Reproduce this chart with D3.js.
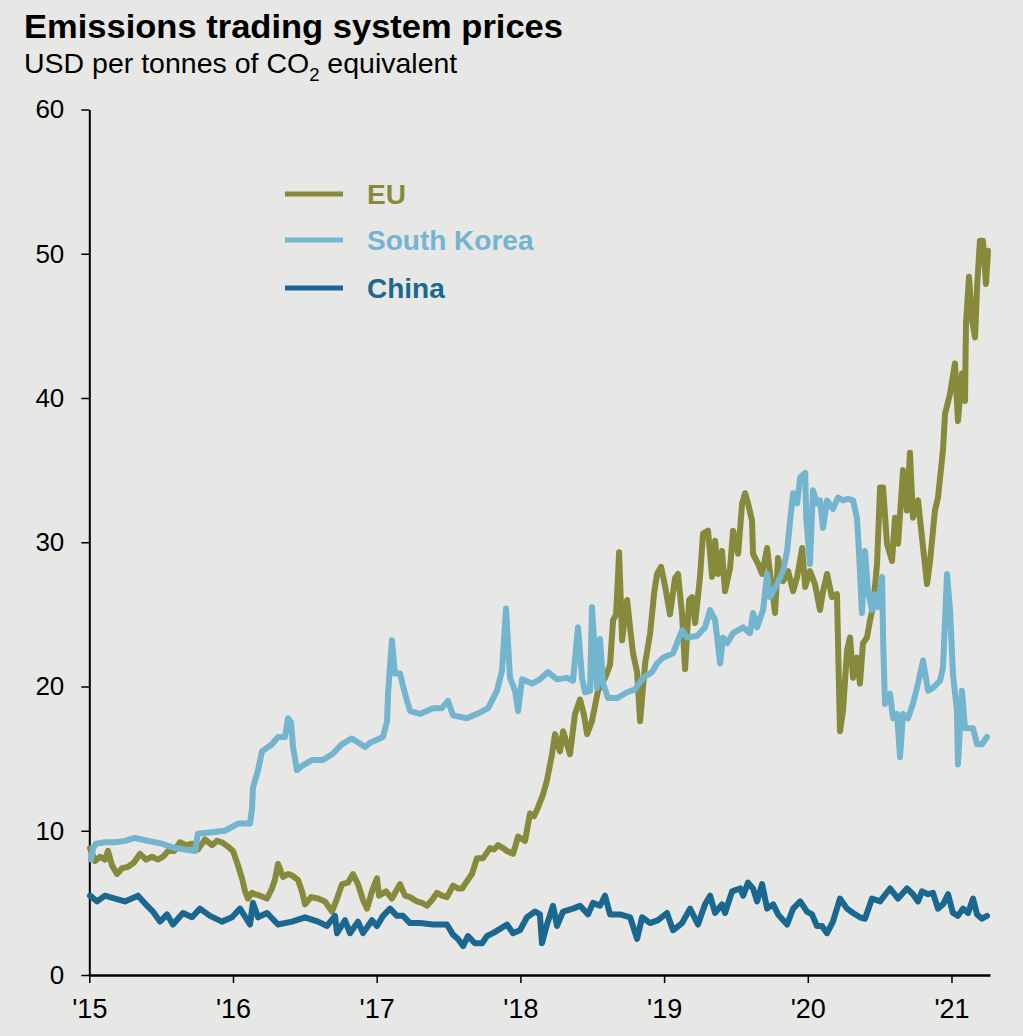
<!DOCTYPE html>
<html>
<head>
<meta charset="utf-8">
<script src="https://cdn.jsdelivr.net/npm/d3@7"></script>
<style>
  html, body { margin: 0; padding: 0; background: #e7e7e5; }
  svg { display: block; }
  text { font-family: "Liberation Sans", Arial, Helvetica, sans-serif; }
</style>
</head>
<body>
<svg id="chart" width="1023" height="1036"></svg>
<script>
// ---- Data (decimal year, USD per tonne CO2e) ----
const euSeries = [[2015.005,8.8],[2015.040,7.9],[2015.074,8.2],[2015.109,8.0],[2015.130,8.6],[2015.158,7.6],[2015.193,7.0],[2015.228,7.4],[2015.269,7.5],[2015.311,7.8],[2015.353,8.4],[2015.395,8.0],[2015.436,8.2],[2015.478,8.0],[2015.513,8.2],[2015.548,8.6],[2015.590,8.6],[2015.631,9.2],[2015.673,9.0],[2015.715,9.1],[2015.756,8.7],[2015.805,9.4],[2015.854,9.0],[2015.889,9.3],[2015.923,9.2],[2015.965,8.9],[2016.000,8.6],[2016.028,7.8],[2016.063,6.7],[2016.084,5.8],[2016.104,5.3],[2016.132,5.7],[2016.153,5.6],[2016.188,5.5],[2016.237,5.3],[2016.271,6.0],[2016.292,6.6],[2016.313,7.7],[2016.348,6.8],[2016.383,7.0],[2016.411,6.9],[2016.452,6.6],[2016.480,5.8],[2016.501,4.9],[2016.543,5.4],[2016.592,5.3],[2016.640,5.1],[2016.689,4.4],[2016.724,5.3],[2016.759,6.3],[2016.800,6.4],[2016.835,7.0],[2016.870,6.3],[2016.905,5.2],[2016.933,4.6],[2016.967,5.8],[2017.002,6.7],[2017.016,5.5],[2017.065,5.8],[2017.106,5.3],[2017.162,6.3],[2017.197,5.5],[2017.232,5.4],[2017.280,5.1],[2017.315,5.0],[2017.350,4.8],[2017.385,5.2],[2017.420,5.7],[2017.454,5.5],[2017.489,5.4],[2017.531,6.2],[2017.566,6.0],[2017.594,6.0],[2017.628,6.5],[2017.663,7.0],[2017.698,8.1],[2017.740,8.1],[2017.768,8.5],[2017.789,8.8],[2017.816,8.7],[2017.844,9.0],[2017.879,8.8],[2017.907,8.6],[2017.949,8.4],[2017.984,9.6],[2018.032,9.3],[2018.067,11.2],[2018.095,11.0],[2018.122,11.6],[2018.157,12.5],[2018.185,13.5],[2018.220,15.3],[2018.241,16.7],[2018.276,15.5],[2018.297,16.9],[2018.324,16.0],[2018.345,15.3],[2018.380,18.1],[2018.415,19.1],[2018.443,18.0],[2018.464,16.7],[2018.498,17.6],[2018.540,19.7],[2018.589,20.6],[2018.624,21.5],[2018.645,24.6],[2018.666,25.0],[2018.687,29.3],[2018.708,23.2],[2018.729,25.0],[2018.743,26.0],[2018.764,24.0],[2018.784,22.3],[2018.812,21.0],[2018.833,17.6],[2018.868,21.6],[2018.903,23.7],[2018.931,26.5],[2018.951,27.8],[2018.979,28.3],[2019.006,27.0],[2019.041,25.0],[2019.076,27.5],[2019.097,27.8],[2019.125,25.0],[2019.146,21.2],[2019.174,26.0],[2019.195,26.2],[2019.216,24.4],[2019.250,27.6],[2019.271,30.6],[2019.306,30.8],[2019.334,27.6],[2019.355,30.1],[2019.376,27.8],[2019.403,29.4],[2019.424,26.6],[2019.459,28.2],[2019.480,30.8],[2019.515,29.2],[2019.543,32.7],[2019.564,33.4],[2019.584,32.7],[2019.612,31.5],[2019.619,29.2],[2019.654,28.5],[2019.682,27.8],[2019.717,29.6],[2019.738,27.8],[2019.772,25.1],[2019.793,28.9],[2019.828,27.3],[2019.863,28.0],[2019.898,26.6],[2019.926,27.6],[2019.961,29.6],[2019.982,26.9],[2020.015,28.0],[2020.050,27.1],[2020.085,25.3],[2020.106,26.6],[2020.134,27.8],[2020.168,26.2],[2020.203,26.4],[2020.224,16.9],[2020.245,18.3],[2020.273,22.5],[2020.294,23.4],[2020.315,20.6],[2020.342,22.0],[2020.363,20.2],[2020.384,23.0],[2020.412,23.4],[2020.433,24.6],[2020.454,25.5],[2020.482,28.5],[2020.503,33.8],[2020.524,33.8],[2020.551,29.9],[2020.586,28.7],[2020.607,31.7],[2020.628,29.9],[2020.663,35.0],[2020.690,32.2],[2020.711,36.2],[2020.732,31.7],[2020.767,32.9],[2020.795,30.3],[2020.830,27.1],[2020.851,28.7],[2020.885,32.2],[2020.906,33.1],[2020.941,36.4],[2020.955,38.9],[2020.990,40.3],[2021.024,42.4],[2021.045,38.4],[2021.073,41.7],[2021.094,39.8],[2021.101,45.2],[2021.122,48.4],[2021.143,45.4],[2021.164,44.2],[2021.178,47.7],[2021.198,50.9],[2021.219,50.9],[2021.240,47.9],[2021.254,50.2]];

const southKoreaSeries = [[2015.012,8.0],[2015.026,8.8],[2015.047,9.1],[2015.109,9.2],[2015.179,9.2],[2015.248,9.3],[2015.318,9.5],[2015.408,9.3],[2015.506,9.1],[2015.597,8.8],[2015.666,8.7],[2015.736,8.6],[2015.756,9.8],[2015.854,9.9],[2015.944,10.0],[2016.035,10.5],[2016.118,10.5],[2016.132,11.5],[2016.139,13.0],[2016.174,14.2],[2016.202,15.5],[2016.271,16.0],[2016.313,16.5],[2016.362,16.5],[2016.383,17.8],[2016.404,17.5],[2016.418,15.8],[2016.445,14.2],[2016.480,14.5],[2016.550,14.9],[2016.626,14.9],[2016.689,15.3],[2016.759,16.0],[2016.828,16.4],[2016.919,15.8],[2016.954,16.1],[2017.044,16.5],[2017.072,17.6],[2017.079,19.5],[2017.106,23.2],[2017.127,20.9],[2017.162,20.9],[2017.197,19.5],[2017.232,18.3],[2017.301,18.1],[2017.392,18.5],[2017.454,18.5],[2017.496,19.0],[2017.531,18.0],[2017.628,17.8],[2017.719,18.2],[2017.775,18.5],[2017.837,19.7],[2017.872,21.1],[2017.900,25.4],[2017.928,20.6],[2017.963,19.7],[2017.984,18.3],[2018.011,20.5],[2018.081,20.2],[2018.136,20.5],[2018.192,21.0],[2018.255,20.5],[2018.324,20.6],[2018.366,20.4],[2018.401,24.1],[2018.429,20.6],[2018.450,19.6],[2018.485,19.7],[2018.498,25.5],[2018.533,19.9],[2018.554,23.3],[2018.575,20.2],[2018.610,19.2],[2018.673,19.2],[2018.743,19.6],[2018.798,19.8],[2018.854,20.6],[2018.917,21.0],[2018.951,21.6],[2018.993,22.0],[2019.062,22.3],[2019.125,23.9],[2019.160,23.4],[2019.229,23.5],[2019.285,24.1],[2019.320,25.3],[2019.355,24.6],[2019.390,21.6],[2019.410,23.4],[2019.438,23.0],[2019.480,23.7],[2019.550,24.1],[2019.598,23.7],[2019.619,25.1],[2019.647,24.1],[2019.689,25.3],[2019.717,27.8],[2019.738,26.2],[2019.786,27.1],[2019.828,28.0],[2019.856,29.4],[2019.877,31.5],[2019.898,33.4],[2019.926,32.7],[2019.947,34.5],[2019.982,34.8],[2019.989,31.7],[2020.015,28.5],[2020.036,33.6],[2020.064,32.7],[2020.085,32.9],[2020.106,31.0],[2020.134,32.9],[2020.175,32.3],[2020.210,33.1],[2020.245,32.9],[2020.280,33.0],[2020.315,32.9],[2020.342,31.7],[2020.356,29.4],[2020.377,25.1],[2020.398,29.4],[2020.419,26.6],[2020.447,25.3],[2020.468,26.4],[2020.489,25.5],[2020.517,27.6],[2020.524,23.4],[2020.537,18.8],[2020.572,19.5],[2020.593,17.8],[2020.621,18.1],[2020.642,15.1],[2020.663,18.1],[2020.697,17.8],[2020.732,18.8],[2020.767,20.2],[2020.802,21.8],[2020.837,19.7],[2020.871,19.9],[2020.920,20.4],[2020.941,21.3],[2020.969,27.8],[2020.990,25.3],[2021.010,20.9],[2021.038,18.3],[2021.045,14.6],[2021.073,19.7],[2021.094,17.1],[2021.150,17.1],[2021.178,16.0],[2021.212,16.0],[2021.247,16.5]];

const chinaSeries = [[2015.005,5.5],[2015.054,5.1],[2015.109,5.5],[2015.179,5.3],[2015.248,5.1],[2015.339,5.5],[2015.402,4.8],[2015.443,4.4],[2015.492,3.7],[2015.541,4.2],[2015.582,3.5],[2015.652,4.3],[2015.715,4.0],[2015.770,4.6],[2015.840,4.1],[2015.923,3.7],[2015.993,4.0],[2016.049,4.6],[2016.118,3.5],[2016.139,5.0],[2016.174,4.0],[2016.237,4.3],[2016.313,3.5],[2016.411,3.7],[2016.501,4.0],[2016.592,3.7],[2016.654,3.4],[2016.710,4.1],[2016.724,2.9],[2016.779,3.8],[2016.814,2.9],[2016.870,3.7],[2016.905,2.9],[2016.967,3.8],[2017.002,3.4],[2017.044,4.1],[2017.093,4.6],[2017.141,4.1],[2017.183,4.1],[2017.232,3.6],[2017.301,3.6],[2017.392,3.5],[2017.489,3.5],[2017.531,2.8],[2017.566,2.5],[2017.601,2.0],[2017.635,2.7],[2017.684,2.2],[2017.733,2.2],[2017.768,2.7],[2017.809,2.9],[2017.858,3.2],[2017.907,3.5],[2017.949,2.9],[2017.997,3.1],[2018.046,4.0],[2018.102,4.4],[2018.136,4.2],[2018.150,2.2],[2018.185,3.5],[2018.227,4.8],[2018.255,3.4],[2018.297,4.4],[2018.366,4.6],[2018.415,4.8],[2018.471,4.2],[2018.505,5.0],[2018.554,4.8],[2018.589,5.5],[2018.624,4.2],[2018.694,4.2],[2018.764,4.0],[2018.812,2.5],[2018.847,4.0],[2018.903,3.6],[2018.958,3.8],[2019.020,4.3],[2019.062,3.1],[2019.125,3.6],[2019.181,4.6],[2019.236,3.5],[2019.285,4.9],[2019.320,5.5],[2019.355,4.3],[2019.403,4.9],[2019.424,4.3],[2019.473,5.8],[2019.529,6.0],[2019.550,5.5],[2019.584,6.4],[2019.619,6.0],[2019.647,5.1],[2019.682,6.3],[2019.717,4.6],[2019.759,4.9],[2019.793,4.2],[2019.856,3.5],[2019.898,4.6],[2019.947,5.1],[2019.994,4.4],[2020.029,4.2],[2020.064,3.4],[2020.099,3.4],[2020.134,2.9],[2020.175,3.7],[2020.224,5.3],[2020.273,4.6],[2020.315,4.3],[2020.363,4.0],[2020.398,3.9],[2020.447,5.3],[2020.503,5.1],[2020.572,6.0],[2020.628,5.3],[2020.690,6.0],[2020.732,5.6],[2020.767,5.1],[2020.795,5.8],[2020.837,5.6],[2020.871,5.7],[2020.906,4.6],[2020.941,4.9],[2020.976,5.6],[2021.010,4.3],[2021.045,4.1],[2021.080,4.6],[2021.115,4.3],[2021.150,5.3],[2021.178,4.2],[2021.212,3.9],[2021.247,4.1]];

const seriesNames = ["EU", "South Korea", "China"];
const seriesColors = ["#878a3b", "#73b4cf", "#1a6790"];
const yTicks = [0, 10, 20, 30, 40, 50, 60];
const xTicks = [2015, 2016, 2017, 2018, 2019, 2020, 2021];
const xTickLabels = ["'15", "'16", "'17", "'18", "'19", "'20", "'21"];

// ---- Layout ----
const svg = d3.select("#chart");
const W = 1023, H = 1036;
svg.append("rect").attr("width", W).attr("height", H).attr("fill", "#e7e7e5");

const x = d3.scaleLinear().domain([2015, 2021.268]).range([89.3, 990]);
const y = d3.scaleLinear().domain([0, 60]).range([975, 109.5]);

// Title & subtitle
svg.append("text").attr("x", 24).attr("y", 38)
  .attr("font-size", 33).attr("font-weight", "bold").attr("fill", "#000")
  .attr("textLength", 539).attr("lengthAdjust", "spacingAndGlyphs")
  .text("Emissions trading system prices");
const sub = svg.append("text").attr("x", 24).attr("y", 72.5)
  .attr("font-size", 28.5).attr("fill", "#000");
sub.append("tspan").text("USD per tonnes of CO");
sub.append("tspan").attr("font-size", 18.5).attr("dy", 8).text("2");
sub.append("tspan").attr("dy", -8).text(" equivalent");

// Axes
const yAxis = d3.axisLeft(y).tickValues(yTicks).tickSize(8).tickSizeOuter(0).tickPadding(17)
  .tickFormat(d3.format("d"));
const gy = svg.append("g").attr("transform", "translate(89.3,0)").call(yAxis);
gy.select(".domain").attr("stroke", "#000").attr("stroke-width", 2);
gy.selectAll(".tick line").attr("stroke", "#000").attr("stroke-width", 1.5);
gy.selectAll(".tick text").attr("font-size", 26).attr("fill", "#000")
  .attr("font-family", "'Liberation Sans', Arial, sans-serif");

const xAxis = d3.axisBottom(x).tickValues(xTicks).tickSize(8).tickSizeOuter(0).tickPadding(16)
  .tickFormat((d, i) => xTickLabels[i]);
const gx = svg.append("g").attr("transform", "translate(0,975)").call(xAxis);
gx.select(".domain").attr("stroke", "#000").attr("stroke-width", 2.5);
gx.selectAll(".tick line").attr("stroke", "#000").attr("stroke-width", 1.5);
gx.selectAll(".tick text").attr("font-size", 27).attr("fill", "#000")
  .attr("font-family", "'Liberation Sans', Arial, sans-serif");

// Lines
const line = d3.line().x(d => x(d[0])).y(d => y(d[1])).curve(d3.curveLinear);
const allSeries = [euSeries, southKoreaSeries, chinaSeries];
allSeries.forEach((s, i) => {
  svg.append("path").datum(s)
    .attr("d", line)
    .attr("fill", "none")
    .attr("stroke", seriesColors[i])
    .attr("stroke-width", 6)
    .attr("stroke-linejoin", "round")
    .attr("stroke-linecap", "round");
});

// Legend
const legendY = [194, 240, 288];
const leg = svg.append("g");
seriesNames.forEach((name, i) => {
  leg.append("line").attr("x1", 285).attr("x2", 343)
    .attr("y1", legendY[i]).attr("y2", legendY[i])
    .attr("stroke", seriesColors[i]).attr("stroke-width", 5);
  leg.append("text").attr("x", 367).attr("y", legendY[i]).attr("dy", "0.36em")
    .attr("font-size", 28).attr("font-weight", "bold").attr("fill", seriesColors[i])
    .text(name);
});
</script>
</body>
</html>
